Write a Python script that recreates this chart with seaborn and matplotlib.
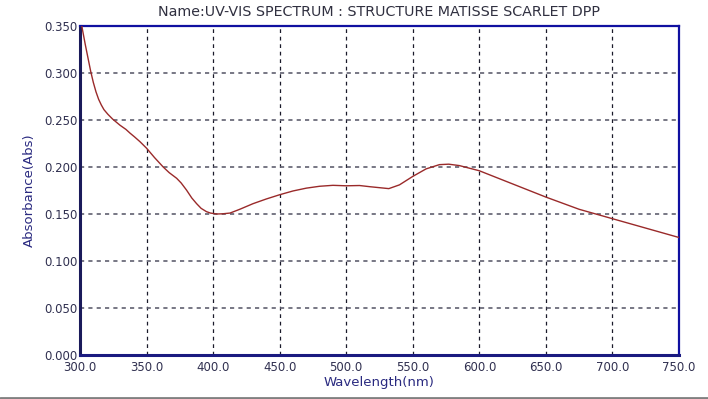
import matplotlib
matplotlib.use("Agg")
import matplotlib.pyplot as plt
import seaborn as sns
import pandas as pd
from matplotlib.lines import Line2D

wavelength = [300, 302, 304, 306, 308, 310, 312, 314, 316, 318, 321, 324.5, 330,
              334.5, 337.6, 341, 345, 350, 356, 362.5, 367, 372.6, 376, 380, 384,
              387.6, 391, 395, 398, 402.7, 407, 412.7, 420, 430, 440, 450, 460, 470,
              480, 490, 500, 510, 518, 525, 532, 540, 550, 560, 570, 577, 585, 600,
              625, 650, 675, 700, 725, 750]
absorbance = [0.361, 0.345, 0.330, 0.316, 0.302, 0.290, 0.280, 0.272, 0.266, 0.261,
              0.256, 0.251, 0.2445, 0.240, 0.236, 0.232, 0.227, 0.220, 0.210, 0.200,
              0.194, 0.188, 0.183, 0.1755, 0.167, 0.161, 0.156, 0.1525, 0.151, 0.150,
              0.1502, 0.151, 0.155, 0.161, 0.166, 0.1705, 0.1745, 0.1775, 0.1795,
              0.1805, 0.180, 0.1803, 0.179, 0.178, 0.177, 0.181, 0.190, 0.198, 0.2025,
              0.203, 0.2015, 0.196, 0.182, 0.168, 0.155, 0.145, 0.135, 0.125]

x_ticks = [300, 350, 400, 450, 500, 550, 600, 650, 700, 750]
y_ticks = [0.000, 0.050, 0.100, 0.150, 0.200, 0.250, 0.300, 0.350]

title = "Name:UV-VIS SPECTRUM : STRUCTURE MATISSE SCARLET DPP"
xlabel = "Wavelength(nm)"
ylabel = "Absorbance(Abs)"

sns.set_style("white")
plt.rcParams["font.family"] = ["DejaVu Sans"]

df = pd.DataFrame({"wl": wavelength, "abs": absorbance})

fig = plt.figure(figsize=(7.08, 3.99), dpi=100)
ax = fig.add_axes([80/708, 44/399, 599/708, 329/399])

ax.set_xlim(300, 750)
ax.set_ylim(0, 0.35)
ax.set_xticks(x_ticks)
ax.set_yticks(y_ticks)
ax.set_xticklabels([f"{v:.1f}" for v in x_ticks])
ax.set_yticklabels([f"{v:.3f}" for v in y_ticks])

for xv in x_ticks[1:-1]:
    ax.axvline(xv, color="#1a1a2a", lw=0.9, ls=(0, (3, 3)), zorder=1)
for yv in y_ticks[1:-1]:
    ax.axhline(yv, color="#606070", lw=1.2, ls=(0, (2.5, 2.5)), zorder=1)

sns.lineplot(data=df, x="wl", y="abs", ax=ax, color="#9a2a2a", lw=1.0, zorder=3)

ax.spines["left"].set_color("#1a1a5a")
ax.spines["left"].set_linewidth(2.2)
ax.spines["bottom"].set_color("#1a1a80")
ax.spines["bottom"].set_linewidth(2.2)
ax.spines["top"].set_color("#1010a0")
ax.spines["top"].set_linewidth(1.6)
ax.spines["right"].set_color("#1010a0")
ax.spines["right"].set_linewidth(1.6)

ax.tick_params(axis="both", length=0, labelsize=8.5, colors="#303050", pad=2)
ax.tick_params(axis="x", pad=4)
ax.set_xlabel(xlabel, fontsize=9.5, color="#2a2a80", labelpad=2)
ax.set_ylabel(ylabel, fontsize=9.5, color="#2a2a80", labelpad=6)
ax.set_title(title, fontsize=10.3, color="#303040", pad=7)

fig.add_artist(Line2D([0, 1], [1/399, 1/399], transform=fig.transFigure,
                      color="#808080", lw=2))

fig.savefig("out.png", dpi=100)
